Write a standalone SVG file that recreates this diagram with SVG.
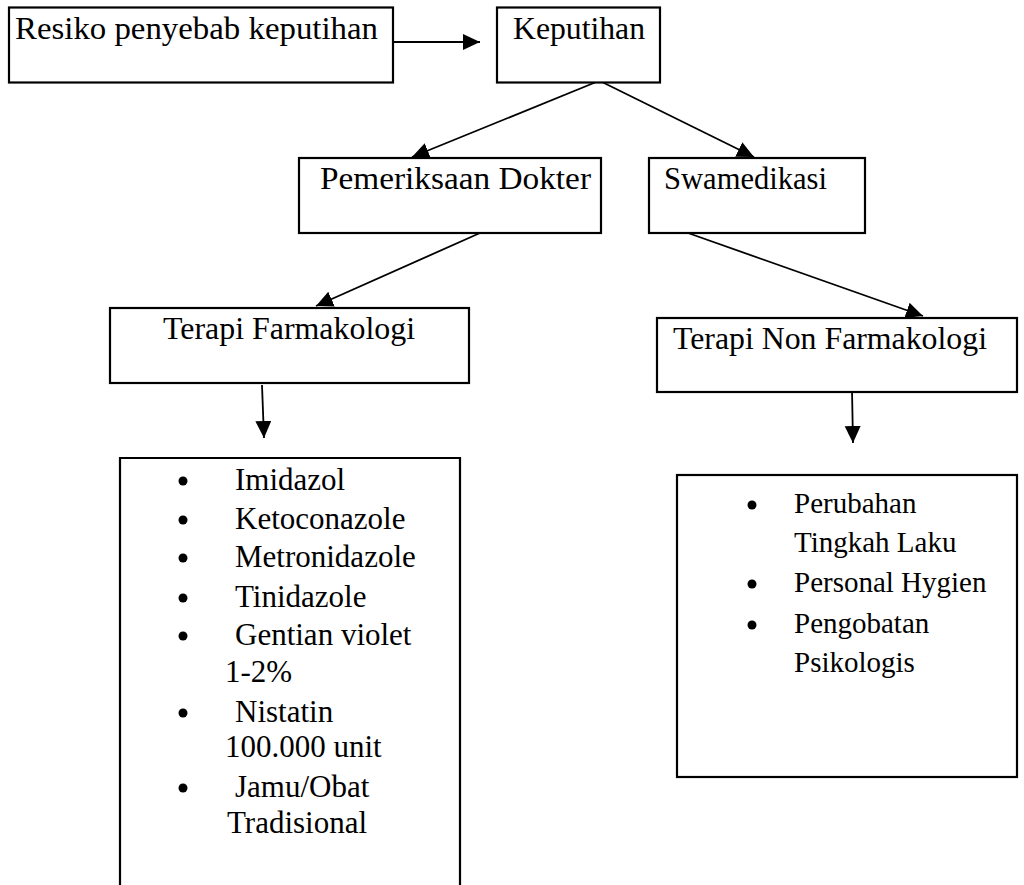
<svg xmlns="http://www.w3.org/2000/svg" width="1024" height="885" viewBox="0 0 1024 885">
<style>
  .box { fill: #ffffff; stroke: #000000; stroke-width: 2.2; }
  .lbl { font-family: "Liberation Serif", "Times New Roman", serif; font-size: 32px; fill: #000000; }
  .li { font-family: "Liberation Serif", "Times New Roman", serif; font-size: 31px; fill: #000000; }
  .ri { font-family: "Liberation Serif", "Times New Roman", serif; font-size: 29px; fill: #000000; }
  .con { stroke: #000000; stroke-width: 1.8; fill: none; marker-end: url(#ah); }
  .dot { fill: #000000; }
</style>
<defs>
  <marker id="ah" markerUnits="userSpaceOnUse" markerWidth="19" markerHeight="17" refX="17" refY="8" orient="auto">
    <path d="M0,0 L17,8 L0,16 z" fill="#000000"/>
  </marker>
</defs>
<rect x="0" y="0" width="1024" height="885" fill="#ffffff"/>

<g id="connectors">
  <line class="con" x1="393" y1="42" x2="480" y2="42"/>
  <line class="con" x1="595" y1="82.5" x2="412" y2="157"/>
  <line class="con" x1="603" y1="82.5" x2="754" y2="157"/>
  <line class="con" x1="480" y1="233" x2="316" y2="306"/>
  <line class="con" x1="688" y1="233" x2="923" y2="316"/>
  <line class="con" x1="262" y1="385" x2="264" y2="438"/>
  <line class="con" x1="852" y1="390" x2="853" y2="443"/>
</g>

<g id="node-resiko">
  <rect class="box" x="9" y="7.5" width="384" height="75"/>
  <text class="lbl" x="15" y="39" textLength="363" lengthAdjust="spacingAndGlyphs">Resiko penyebab keputihan</text>
</g>

<g id="node-keputihan">
  <rect class="box" x="497" y="7.5" width="163" height="75"/>
  <text class="lbl" x="513" y="39" textLength="132" lengthAdjust="spacingAndGlyphs">Keputihan</text>
</g>

<g id="node-pemeriksaan">
  <rect class="box" x="299" y="158" width="302" height="75"/>
  <text class="lbl" x="320" y="189" textLength="271" lengthAdjust="spacingAndGlyphs">Pemeriksaan Dokter</text>
</g>

<g id="node-swamedikasi">
  <rect class="box" x="649" y="158" width="216" height="75"/>
  <text class="lbl" x="664" y="189" textLength="163" lengthAdjust="spacingAndGlyphs">Swamedikasi</text>
</g>

<g id="node-terapi-farmakologi">
  <rect class="box" x="110" y="308" width="359" height="75"/>
  <text class="lbl" x="163" y="339" textLength="252" lengthAdjust="spacingAndGlyphs">Terapi Farmakologi</text>
</g>

<g id="node-terapi-non">
  <rect class="box" x="657" y="318" width="360" height="74"/>
  <text class="lbl" x="673" y="349" textLength="314" lengthAdjust="spacingAndGlyphs">Terapi Non Farmakologi</text>
</g>

<g id="node-list-farmakologi">
  <path class="box" d="M120,886 V458 H460 V886"/>
  <circle class="dot" cx="183" cy="481" r="4.5"/>
  <text class="li" x="235" y="490">Imidazol</text>
  <circle class="dot" cx="183" cy="520" r="4.5"/>
  <text class="li" x="235" y="529">Ketoconazole</text>
  <circle class="dot" cx="183" cy="558" r="4.5"/>
  <text class="li" x="235" y="567">Metronidazole</text>
  <circle class="dot" cx="183" cy="598" r="4.5"/>
  <text class="li" x="235" y="607">Tinidazole</text>
  <circle class="dot" cx="183" cy="636" r="4.5"/>
  <text class="li" x="235" y="645">Gentian violet</text>
  <text class="li" x="225" y="682">1-2%</text>
  <circle class="dot" cx="183" cy="713" r="4.5"/>
  <text class="li" x="235" y="722">Nistatin</text>
  <text class="li" x="225" y="757">100.000 unit</text>
  <circle class="dot" cx="183" cy="788" r="4.5"/>
  <text class="li" x="235" y="797">Jamu/Obat</text>
  <text class="li" x="227" y="833">Tradisional</text>
</g>

<g id="node-list-non">
  <rect class="box" x="677" y="475" width="340" height="302"/>
  <circle class="dot" cx="752" cy="505" r="4.5"/>
  <text class="ri" x="794" y="513">Perubahan</text>
  <text class="ri" x="794" y="552">Tingkah Laku</text>
  <circle class="dot" cx="752" cy="584" r="4.5"/>
  <text class="ri" x="794" y="592">Personal Hygien</text>
  <circle class="dot" cx="752" cy="625" r="4.5"/>
  <text class="ri" x="794" y="633">Pengobatan</text>
  <text class="ri" x="794" y="672">Psikologis</text>
</g>
</svg>
